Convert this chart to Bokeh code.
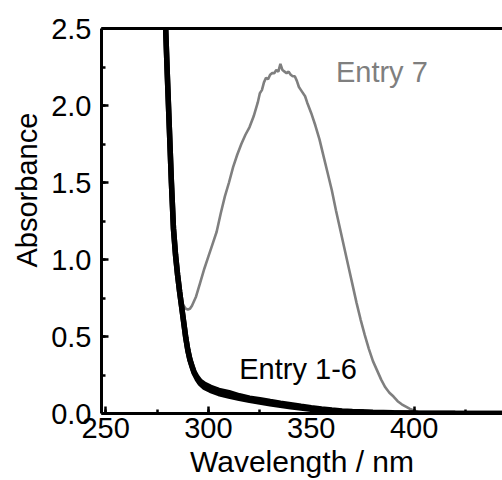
from bokeh.plotting import figure
from bokeh.models import (LinearAxis, SingleIntervalTicker, PrintfTickFormatter,
                          Range1d, Label, FixedTicker, Title)
from bokeh.embed import file_html
from bokeh.resources import INLINE

# ---- data ----
wl_entry7 = [278.5, 279, 280, 281, 282, 283, 284, 285, 286, 287, 288, 289, 290, 291,
             292, 294, 296, 298, 300, 302, 304, 306, 308, 310, 312, 314, 316, 318,
             320, 322, 324, 325, 326, 327, 328, 329, 330, 331, 332, 333, 334, 335,
             336, 337, 338, 339, 340, 341, 342, 343, 344, 345, 347, 348, 350, 352,
             354, 356, 358, 360, 362, 364, 366, 368, 370, 372, 374, 376, 378, 380,
             382, 384, 386, 388, 390, 392, 394, 396, 398, 400, 402, 404, 408, 420, 443]
abs_entry7 = [2.6, 2.45, 2.2, 1.85, 1.5, 1.2, 1.03, 0.9, 0.8, 0.73, 0.70, 0.68, 0.675,
              0.68, 0.70, 0.76, 0.85, 0.94, 1.02, 1.10, 1.18, 1.30, 1.41, 1.50, 1.60,
              1.68, 1.75, 1.81, 1.86, 1.93, 2.02, 2.08, 2.10, 2.15, 2.18, 2.17, 2.20,
              2.21, 2.21, 2.23, 2.22, 2.27, 2.23, 2.22, 2.21, 2.22, 2.20, 2.19, 2.19,
              2.16, 2.12, 2.10, 2.06, 2.02, 1.95, 1.87, 1.78, 1.67, 1.56, 1.45, 1.32,
              1.20, 1.08, 0.96, 0.84, 0.72, 0.61, 0.51, 0.42, 0.34, 0.28, 0.22, 0.17,
              0.135, 0.11, 0.08, 0.06, 0.045, 0.03, 0.02, 0.01, 0.005, 0.002, 0.001, 0.0]

wl_entry16 = [278.8, 279.2, 280, 281, 282, 283, 284, 285, 286, 287, 288, 289, 290, 291,
              292, 293, 294.5, 296, 298, 301, 305, 310, 315, 320, 325, 330, 335, 340,
              345, 350, 355, 360, 365, 370, 380, 390, 400, 420, 443]
abs_entry16_upper = [2.6, 2.5, 2.2, 1.85, 1.5, 1.2, 1.03, 0.9, 0.79, 0.69, 0.59, 0.49,
                     0.41, 0.35, 0.31, 0.27, 0.235, 0.21, 0.19, 0.17, 0.15, 0.135, 0.115,
                     0.10, 0.09, 0.078, 0.067, 0.057, 0.047, 0.038, 0.03, 0.023, 0.017,
                     0.013, 0.008, 0.005, 0.003, 0.001, 0.0]
abs_entry16_lower = [2.6, 2.5, 2.2, 1.85, 1.5, 1.2, 1.03, 0.9, 0.79, 0.69, 0.59, 0.49,
                     0.41, 0.35, 0.305, 0.265, 0.225, 0.195, 0.17, 0.15, 0.13, 0.113, 0.098,
                     0.085, 0.074, 0.063, 0.053, 0.044, 0.036, 0.028, 0.021, 0.016, 0.012,
                     0.008, 0.005, 0.003, 0.001, 0.0, 0.0]

x_major_interval = 50
y_major_interval = 0.5
label_entry7 = "Entry 7"
label_entry16 = "Entry 1-6"
x_title = "Wavelength / nm"
y_title = "Absorbance"

FONT = "Liberation Sans"
GREY = "#7f7f7f"
X0, X1 = 248, 443

p = figure(width=502, height=480, output_backend="svg", toolbar_location=None,
           x_range=Range1d(X0, X1), y_range=Range1d(0, 2.5),
           x_axis_location=None, y_axis_location=None,
           min_border_left=101, min_border_right=0, min_border_top=28,
           min_border_bottom=64)
p.outline_line_color = None
p.grid.visible = False
p.background_fill_color = "white"
p.border_fill_color = "white"


def style_axis(ax):
    ax.axis_line_width = 3
    ax.axis_line_color = "black"
    ax.major_tick_in = 7
    ax.major_tick_out = 0
    ax.minor_tick_in = 4
    ax.minor_tick_out = 0
    ax.major_tick_line_width = 2.5
    ax.minor_tick_line_width = 2.5
    ax.major_tick_line_color = "black"
    ax.minor_tick_line_color = "black"
    ax.major_label_text_font = FONT
    ax.major_label_text_font_size = "29px"
    ax.major_label_text_color = "black"
    ax.axis_label_text_font = FONT
    ax.axis_label_text_font_size = "30px"
    ax.axis_label_text_font_style = "normal"
    ax.axis_label_text_color = "black"


xaxis = LinearAxis(ticker=SingleIntervalTicker(interval=x_major_interval, num_minor_ticks=2),
                   formatter=PrintfTickFormatter(format="%d"), axis_label=x_title)
style_axis(xaxis)
xaxis.major_label_standoff = 4
xaxis.axis_label_standoff = 4
xaxis.axis_label_text_line_height = 0.6
p.add_layout(xaxis, "below")

yaxis = LinearAxis(ticker=SingleIntervalTicker(interval=y_major_interval, num_minor_ticks=2),
                   formatter=PrintfTickFormatter(format="%.1f"))
style_axis(yaxis)
yaxis.major_label_standoff = 10
p.add_layout(yaxis, "left")

ytitle = Title(text=y_title, align="left", offset=146, text_font=FONT,
               text_font_size="29px", text_font_style="normal", text_color="black",
               standoff=12)
p.add_layout(ytitle, "left")

top = LinearAxis(ticker=FixedTicker(ticks=[]), axis_line_width=3,
                 major_tick_out=0, minor_tick_out=0, major_label_standoff=0)
p.add_layout(top, "above")

p.line(wl_entry7, abs_entry7, line_color=GREY, line_width=2.6)
p.line(wl_entry16, abs_entry16_upper, line_color="black", line_width=5.5)
p.line(wl_entry16, abs_entry16_lower, line_color="black", line_width=5.5)

p.add_layout(Label(x=362, y=2.215, text=label_entry7, text_font=FONT,
                   text_font_size="29px", text_color=GREY, text_baseline="alphabetic"))
p.add_layout(Label(x=315, y=0.29, text=label_entry16, text_font=FONT,
                   text_font_size="29px", text_color="black", text_baseline="alphabetic"))

open("out.html", "w").write(file_html(p, INLINE))
